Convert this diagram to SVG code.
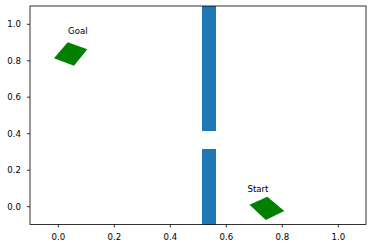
<svg xmlns="http://www.w3.org/2000/svg" width="372" height="248" viewBox="0 0 372 248">
<style>
text{font-family:"DejaVu Sans","Liberation Sans",sans-serif;font-size:8.6px;fill:#000}
.yl{text-anchor:end}
.xl{text-anchor:middle}
.tick{stroke:#000;stroke-width:0.8}
.bar{fill:#1f77b4}
.agent{fill:#008000}
</style>
<rect width="372" height="248" fill="#fff"/>
<g id="walls">
<rect class="bar" x="202" y="6" width="14" height="125"/>
<rect class="bar" x="202" y="149" width="14" height="75.5"/>
</g>
<g id="goal">
<polygon class="agent" points="54,58.3 67.7,42.3 87.3,49.3 74,65.7"/>
<text x="68" y="33.5">Goal</text>
</g>
<g id="start">
<polygon class="agent" points="249.5,204.8 267.3,196.7 284.3,211 265.8,220"/>
<text x="247.5" y="191.5">Start</text>
</g>
<g id="axes">
<rect x="30" y="6" width="336" height="218.5" fill="none" stroke="#000" stroke-width="0.8"/>
<g class="tick">
<line x1="27" y1="206.7" x2="30" y2="206.7"/>
<line x1="27" y1="170.2" x2="30" y2="170.2"/>
<line x1="27" y1="133.7" x2="30" y2="133.7"/>
<line x1="27" y1="97.2" x2="30" y2="97.2"/>
<line x1="27" y1="60.8" x2="30" y2="60.8"/>
<line x1="27" y1="24.3" x2="30" y2="24.3"/>
<line x1="58.3" y1="224.5" x2="58.3" y2="227.5"/>
<line x1="114.3" y1="224.5" x2="114.3" y2="227.5"/>
<line x1="170.3" y1="224.5" x2="170.3" y2="227.5"/>
<line x1="226.3" y1="224.5" x2="226.3" y2="227.5"/>
<line x1="282.3" y1="224.5" x2="282.3" y2="227.5"/>
<line x1="338.3" y1="224.5" x2="338.3" y2="227.5"/>
</g>
<text class="yl" x="21" y="209.8">0.0</text>
<text class="yl" x="21" y="173.3">0.2</text>
<text class="yl" x="21" y="136.8">0.4</text>
<text class="yl" x="21" y="100.3">0.6</text>
<text class="yl" x="21" y="63.9">0.8</text>
<text class="yl" x="21" y="27.4">1.0</text>
<text class="xl" x="58.3" y="240">0.0</text>
<text class="xl" x="114.3" y="240">0.2</text>
<text class="xl" x="170.3" y="240">0.4</text>
<text class="xl" x="226.3" y="240">0.6</text>
<text class="xl" x="282.3" y="240">0.8</text>
<text class="xl" x="338.3" y="240">1.0</text>
</g>
</svg>
